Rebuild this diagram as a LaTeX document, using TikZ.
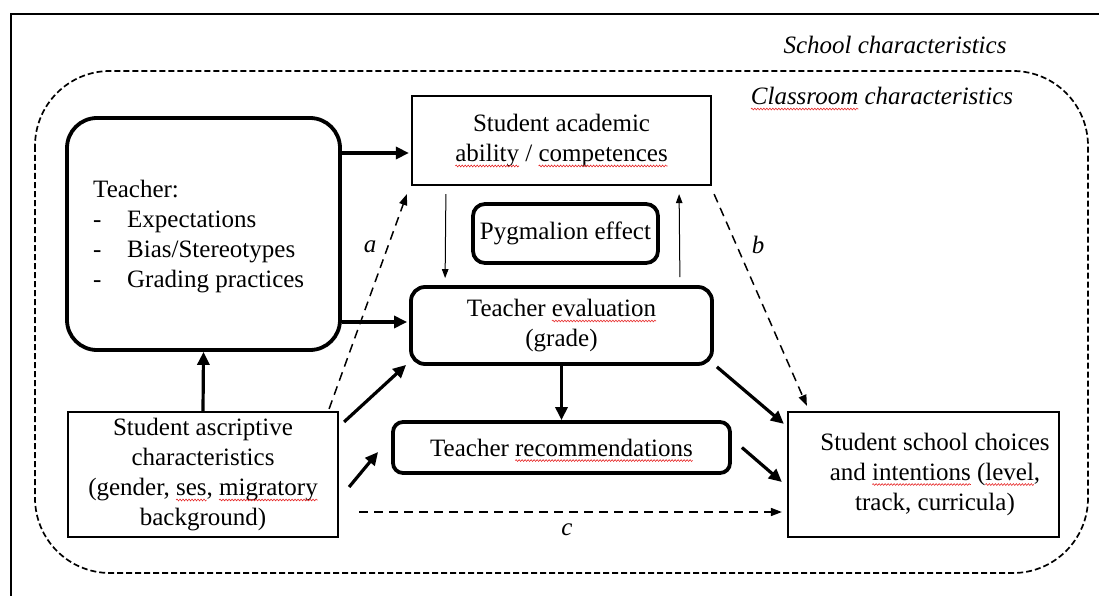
\documentclass[tikz,border=0pt]{standalone}
\usepackage{fontspec}
\setmainfont{Liberation Serif}
\usetikzlibrary{arrows.meta,decorations.pathmorphing}
\definecolor{squig}{RGB}{230,40,40}
\newsavebox\sqbox
\newcommand\sq[1]{\sbox\sqbox{#1}\usebox\sqbox\tikz[overlay,x=1pt,y=1pt]{\draw[squig,solid,sharp corners,line width=0.6pt,decorate,decoration={snake,amplitude=0.9pt,segment length=3pt}] (-\wd\sqbox,-4.5) -- (0,-4.5);}}
\begin{document}
\begin{tikzpicture}[x=1pt,y=-1pt,
  txt/.style={font=\fontsize{25}{30}\selectfont, inner sep=0pt},
  rbox/.style={draw, line width=3.8pt, rounded corners=#1, inner sep=0pt},
  sbox/.style={draw, line width=2.2pt, inner sep=0pt},
  bigarrow/.style={line width=3.2pt, -{Triangle[length=13pt,width=12pt]}},
  thinarrow/.style={line width=1pt, -{Triangle[length=9pt,width=6.5pt]}},
  dasharrow/.style={line width=1.5pt, dash pattern=on 9pt off 6pt, -{Triangle[length=11pt,width=8pt]}},
  lab/.style={font=\fontsize{25}{30}\selectfont\itshape, inner sep=0pt}]
\useasboundingbox (0,0) rectangle (1099,596);
% outer frame
\draw[line width=2pt] (11,596) -- (11,14) -- (1099,14);
\node[lab] (school) at (895,45) {School characteristics};
% classroom dashed
\draw[line width=1.7pt, dash pattern=on 6pt off 3pt, rounded corners=75pt] (35,71) rectangle (1088,573);
\node[lab] (classroom) at (882,96) {\sq{Classroom} characteristics};
% nodes
\node[rbox=30pt, minimum width=273pt, minimum height=232pt] (teacher) at (203.5,234) {};
\node[txt, anchor=west, align=left] (teachertext) at (93,237) {Teacher:\\\makebox[34pt][l]{-}Expectations\\\makebox[34pt][l]{-}Bias/Stereotypes\\\makebox[34pt][l]{-}Grading practices};
\node[sbox, txt, minimum width=299pt, minimum height=89pt, align=center] (academic) at (561.5,140.5) {Student academic\\\sq{ability} / \sq{competences}};
\node[rbox=12pt, txt, minimum width=185pt, minimum height=59pt] (pyg) at (565.5,233.5) {Pygmalion effect};
\node[rbox=14pt, txt, minimum width=301pt, minimum height=77pt, align=center] (eval) at (561.5,325.5) {Teacher \sq{evaluation}\\(grade)};
\node[rbox=10pt, txt, minimum width=337pt, minimum height=51pt] (recs) at (561.5,447.5) {Teacher \sq{recommendations}};
\node[sbox, txt, minimum width=270pt, minimum height=125pt, align=center] (ascr) at (203,474.5) {Student ascriptive\\characteristics\\(gender, \sq{ses}, \sq{migratory}\\background)};
\node[sbox, minimum width=271pt, minimum height=125pt] (choices) at (923.5,474.5) {};
\node[txt, align=center] (choicestext) at (935,474) {Student school choices\\and \sq{intentions} (\sq{level},\\track, curricula)};
% solid arrows
\coordinate (p1) at ([yshift=-12.5pt]academic.west);
\draw[bigarrow] (teacher.east |- p1) -- ([xshift=-2pt]p1);
\coordinate (p2) at ([yshift=3.5pt]eval.west);
\draw[bigarrow] (teacher.east |- p2) -- ([xshift=-2pt]p2);
\draw[bigarrow] (ascr.north) -- (teacher.south);
\draw[bigarrow] ([xshift=5pt,yshift=-11pt]ascr.north east) -- ([xshift=-3pt,yshift=1pt]eval.south west);
\draw[bigarrow] ([xshift=10pt,yshift=-12.5pt]ascr.east) -- ([xshift=-13pt,yshift=-4.5pt]recs.west);
\draw[bigarrow] (eval.south) -- (recs.north);
\draw[bigarrow] ([xshift=3pt,yshift=-1pt]eval.south east) -- ([xshift=-3pt,yshift=-13pt]choices.north west);
\draw[bigarrow] ([xshift=10pt]recs.east) -- ([xshift=-5pt,yshift=-7.5pt]choices.west);
% thin arrows
\draw[thinarrow] ([xshift=35pt,yshift=-8pt]academic.south west) -- ([xshift=36pt,yshift=7pt]eval.north west);
\draw[thinarrow] ([xshift=-34pt,yshift=8pt]eval.north east) -- ([xshift=-33pt,yshift=-8pt]academic.south east);
% dashed arrows
\draw[dasharrow] ([xshift=-10pt,yshift=2pt]ascr.north east) -- ([xshift=-4pt,yshift=-8pt]academic.south west);
\node[lab] (la) at (370,247) {a};
\draw[dasharrow] ([xshift=2pt,yshift=-8pt]academic.south east) -- ([xshift=20pt,yshift=5pt]choices.north west);
\node[lab] (lb) at (758,245) {b};
\draw[dasharrow] ([xshift=20pt,yshift=-37.5pt]ascr.east) -- ([xshift=-5pt,yshift=-37.5pt]choices.west);
\node[lab] (lc) at (567,530) {c};
\end{tikzpicture}
\end{document}
